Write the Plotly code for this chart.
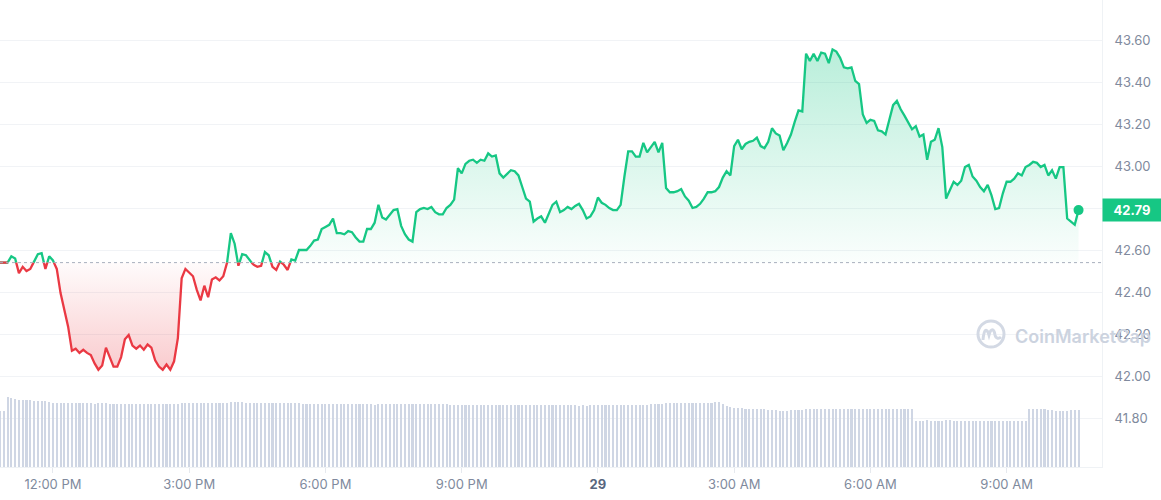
import plotly.graph_objects as go
import pandas as pd

# ---------------- data (5-minute samples) ----------------
start_time = "2023-11-28 10:50"

price = [
    42.54, 42.54, 42.54, 42.57, 42.56, 42.49, 42.52, 42.50, 42.51, 42.545,
    42.58, 42.585, 42.51, 42.57, 42.55, 42.51, 42.395, 42.31, 42.235, 42.12,
    42.13, 42.11, 42.125, 42.11, 42.10, 42.06, 42.03, 42.05, 42.135, 42.09,
    42.045, 42.045, 42.09, 42.175, 42.195, 42.145, 42.13, 42.145, 42.125, 42.15,
    42.135, 42.075, 42.045, 42.03, 42.055, 42.03, 42.07, 42.18, 42.465, 42.51,
    42.49, 42.475, 42.41, 42.36, 42.43, 42.375, 42.46, 42.47, 42.455, 42.475,
    42.54, 42.68, 42.63, 42.525, 42.58, 42.575, 42.55, 42.53, 42.52, 42.525,
    42.59, 42.575, 42.52, 42.505, 42.545, 42.53, 42.505, 42.555, 42.55, 42.60,
    42.60, 42.60, 42.62, 42.645, 42.65, 42.70, 42.71, 42.72, 42.75, 42.68,
    42.68, 42.675, 42.69, 42.685, 42.66, 42.64, 42.64, 42.70, 42.70, 42.73,
    42.815, 42.755, 42.745, 42.77, 42.79, 42.795, 42.715, 42.675, 42.65, 42.64,
    42.78, 42.795, 42.80, 42.795, 42.805, 42.78, 42.77, 42.77, 42.80, 42.815,
    42.84, 42.99, 42.965, 43.01, 43.025, 43.03, 43.015, 43.03, 43.025, 43.06,
    43.045, 43.05, 42.965, 42.945, 42.965, 42.98, 42.975, 42.955, 42.90, 42.845,
    42.83, 42.735, 42.75, 42.76, 42.73, 42.775, 42.815, 42.83, 42.78, 42.79,
    42.805, 42.795, 42.81, 42.82, 42.79, 42.75, 42.76, 42.79, 42.85, 42.825,
    42.815, 42.80, 42.79, 42.79, 42.815, 42.95, 43.07, 43.07, 43.045, 43.045,
    43.11, 43.065, 43.09, 43.115, 43.065, 43.11, 42.895, 42.875, 42.875, 42.88,
    42.89, 42.855, 42.835, 42.80, 42.805, 42.82, 42.845, 42.875, 42.875, 42.88,
    42.90, 42.945, 42.975, 42.955, 43.095, 43.125, 43.08, 43.105, 43.115, 43.12,
    43.135, 43.095, 43.085, 43.115, 43.18, 43.155, 43.145, 43.075, 43.11, 43.15,
    43.21, 43.265, 43.26, 43.535, 43.50, 43.535, 43.50, 43.54, 43.535, 43.49,
    43.555, 43.545, 43.515, 43.47, 43.465, 43.47, 43.405, 43.39, 43.245, 43.205,
    43.22, 43.215, 43.17, 43.165, 43.15, 43.22, 43.29, 43.31, 43.27, 43.24,
    43.21, 43.175, 43.19, 43.14, 43.15, 43.03, 43.115, 43.125, 43.18, 43.09,
    42.845, 42.885, 42.925, 42.91, 42.93, 42.995, 43.005, 42.95, 42.93, 42.90,
    42.88, 42.91, 42.86, 42.795, 42.80, 42.87, 42.925, 42.925, 42.94, 42.965,
    42.955, 42.995, 43.005, 43.02, 43.015, 42.995, 43.005, 42.955, 42.98, 42.94,
    42.995, 42.995, 42.75, 42.735, 42.72, 42.79,
]

# 24h volume, millions (relative bar heights)
volume = (
    [56, 56, 70, 69, 68, 67, 67, 67, 67, 66, 66, 66, 66, 65]
    + [64, 64, 64, 64, 64, 64, 64, 64, 64, 64, 64, 63, 64, 64, 64]
    + [63, 63, 63, 63, 63, 63, 63, 63, 63, 63, 63, 63, 63, 63, 63, 63, 63, 63, 63]
    + [64, 64, 64, 64, 64, 64, 64, 64, 64, 64, 64, 64, 64, 65, 65, 65, 65]
    + [64, 64, 64, 64, 64, 64, 64, 64, 64, 64, 64, 64, 64, 64, 64]
    + [63, 63, 63, 63, 63, 63, 63, 63, 63, 63, 63, 63, 63, 63, 63, 63, 63, 63, 63, 62]
    + [63, 63, 63, 63, 63, 63, 63, 63, 63, 63, 63, 63, 63, 63, 63, 63, 63, 63, 63]
    + [62, 62, 62, 62, 62, 62, 62, 62, 62, 62, 62, 62, 62, 62, 62, 62, 62,
       62, 62, 62, 62, 62, 62, 62, 62, 62, 62, 62, 62, 62, 62, 62, 62, 62]
    + [61.5, 62, 61, 62, 62]
    + [62, 62, 62, 62, 62, 62, 62, 62, 62, 62, 62, 62, 62, 62, 63, 63, 63, 63]
    + [64, 64, 64, 64, 64, 64, 64, 64, 64, 64, 64, 64, 64, 65, 65, 63, 61, 60]
    + [59, 59, 59, 58, 58, 58, 58, 58, 58, 57, 57, 57, 56, 56, 56, 57, 57, 57, 57]
    + [58, 58, 58, 58, 58, 58, 58, 58, 58, 58, 58, 58, 58, 58, 58, 58, 58, 58,
       58, 58, 58, 58, 58, 58, 58, 58, 58, 58, 58]
    + [45.6, 45.6, 45.6, 46.7, 45.6, 45.6, 45.6, 45.6, 46.7, 46.7, 45.6, 45.6,
       45.6, 45.6, 45.6, 45.6, 45.6, 45.6, 45.6, 45.6, 45.6, 45.6, 45.6, 45.6,
       45.6, 45.6, 45.6, 45.6, 45.6, 45.6]
    + [58, 58, 58, 58, 58, 57, 57, 56, 56, 56, 56, 57, 57, 57]
)

y_ticks = [41.80, 42.00, 42.20, 42.40, 42.60, 42.80, 43.00, 43.20, 43.40, 43.60]
x_tick_times = ["2023-11-28 12:00", "2023-11-28 15:00", "2023-11-28 18:00",
                "2023-11-28 21:00", "2023-11-29 00:00", "2023-11-29 03:00",
                "2023-11-29 06:00", "2023-11-29 09:00"]
x_tick_text = ["12:00 PM", "3:00 PM", "6:00 PM", "9:00 PM",
               "<b><span style='color:#58667e'>29</span></b>",
               "3:00 AM", "6:00 AM", "9:00 AM"]

# ---------------- styling ----------------
GREEN = "#16c784"
RED = "#ea3943"
FONT = "Inter"
LABEL_C = "#808a9d"

times = pd.date_range(start_time, periods=len(price), freq="5min")
base = price[0]
n = len(price)

# split line where it crosses the opening price (rendering helper)
xs, ys = [times[0]], [price[0]]
for i in range(1, n):
    p0, p1 = price[i - 1], price[i]
    if (p0 - base) * (p1 - base) < 0:
        f = (base - p0) / (p1 - p0)
        xs.append(times[i - 1] + (times[i] - times[i - 1]) * f)
        ys.append(base)
    xs.append(times[i])
    ys.append(p1)

green_line = [y if y >= base else None for y in ys]
red_line = [y if y <= base else None for y in ys]
green_fill = [max(y, base) for y in ys]
red_fill = [min(y, base) for y in ys]

fig = go.Figure()

# volume bars
fig.add_trace(go.Bar(
    x=times, y=volume, yaxis="y2",
    marker=dict(color="#cfd6e4", line=dict(width=0)),
    width=5 * 60 * 1000 * 0.55, hoverinfo="skip", showlegend=False,
))

# fills
fig.add_trace(go.Scatter(
    x=list(xs) + list(xs[::-1]), y=green_fill + [base] * len(xs),
    fill="toself", mode="lines", line=dict(width=0),
    fillgradient=dict(type="vertical",
                      colorscale=[[0, "rgba(22,199,132,0.02)"], [1, "rgba(22,199,132,0.30)"]],
                      start=base, stop=max(price)),
    hoverinfo="skip", showlegend=False,
))
fig.add_trace(go.Scatter(
    x=list(xs) + list(xs[::-1]), y=red_fill + [base] * len(xs),
    fill="toself", mode="lines", line=dict(width=0),
    fillgradient=dict(type="vertical",
                      colorscale=[[0, "rgba(234,57,67,0.26)"], [1, "rgba(234,57,67,0.02)"]],
                      start=min(price), stop=base),
    hoverinfo="skip", showlegend=False,
))

# lines
fig.add_trace(go.Scatter(x=xs, y=green_line, mode="lines",
                         line=dict(color=GREEN, width=2.3), connectgaps=False,
                         hoverinfo="skip", showlegend=False))
fig.add_trace(go.Scatter(x=xs, y=red_line, mode="lines",
                         line=dict(color=RED, width=2.3), connectgaps=False,
                         hoverinfo="skip", showlegend=False))
# last point marker
fig.add_trace(go.Scatter(x=[times[-1]], y=[price[-1]], mode="markers",
                         marker=dict(color=GREEN, size=10),
                         hoverinfo="skip", showlegend=False))

x_end = times[0] + pd.Timedelta(minutes=1456)

fig.update_layout(
    width=1161, height=500,
    margin=dict(l=0, r=59, t=0, b=33),
    paper_bgcolor="white", plot_bgcolor="white",
    font=dict(family=FONT, size=13, color=LABEL_C),
    bargap=0,
    xaxis=dict(
        type="date", range=[times[0], x_end],
        tickvals=pd.to_datetime(x_tick_times), ticktext=x_tick_text,
        showgrid=False, zeroline=False,
        showline=True, linecolor="#eff2f5", linewidth=1,
        ticks="outside", ticklen=5, tickcolor="#e6e9ee",
        tickfont=dict(family=FONT, size=13, color=LABEL_C),
        fixedrange=True,
    ),
    yaxis=dict(
        side="right", range=[41.5667, 43.7905],
        tickvals=y_ticks, tickformat=".2f",
        showgrid=True, gridcolor="#f1f3f6", gridwidth=1,
        zeroline=False, showline=True, linecolor="#eff2f5", linewidth=1,
        ticks="", ticklabelstandoff=9,
        tickfont=dict(family=FONT, size=13, color=LABEL_C),
        fixedrange=True,
    ),
    yaxis2=dict(overlaying="y", range=[0, 467], visible=False, fixedrange=True),
    shapes=[
        dict(type="line", xref="paper", x0=0, x1=1, yref="y", y0=base, y1=base,
             line=dict(color="#a8b0bd", width=1, dash="dot"), layer="above"),
        dict(type="circle", xref="paper", yref="paper",
             xsizemode="pixel", ysizemode="pixel",
             xanchor=991 / 1102, yanchor=1 - 334 / 467,
             x0=-13, x1=13, y0=-13, y1=13,
             line=dict(color="#d3d9e4", width=3), layer="above"),
        dict(type="path", xref="paper", yref="paper",
             xsizemode="pixel", ysizemode="pixel",
             xanchor=991 / 1102, yanchor=1 - 334 / 467,
             path="M -8,-6 C -7,6 -4,6 -2,-1 C 0,6 3,6 4,-1 C 5,-5 8,-5 10,-3",
             line=dict(color="#d3d9e4", width=3), layer="above"),
    ],
    annotations=[
        dict(xref="paper", x=1, xanchor="left", yref="y", y=price[-1],
             text=f"<b>{price[-1]:.2f}</b>", showarrow=False,
             font=dict(family=FONT, size=13, color="white"),
             bgcolor=GREEN, width=52, height=16, borderpad=3, align="center"),
        dict(xref="paper", x=1013 / 1102, xanchor="left",
             yref="paper", y=1 - 336 / 467, yanchor="middle",
             text="CoinMarketCap", showarrow=False,
             font=dict(family=FONT, size=18, color="#ccd3df", weight=600)),
    ],
)

fig.write_html(
    "out.html",
    config={"displayModeBar": False},
    post_script="document.body.style.margin='0';document.body.style.padding='0';"
                "document.body.style.overflow='hidden';",
)
